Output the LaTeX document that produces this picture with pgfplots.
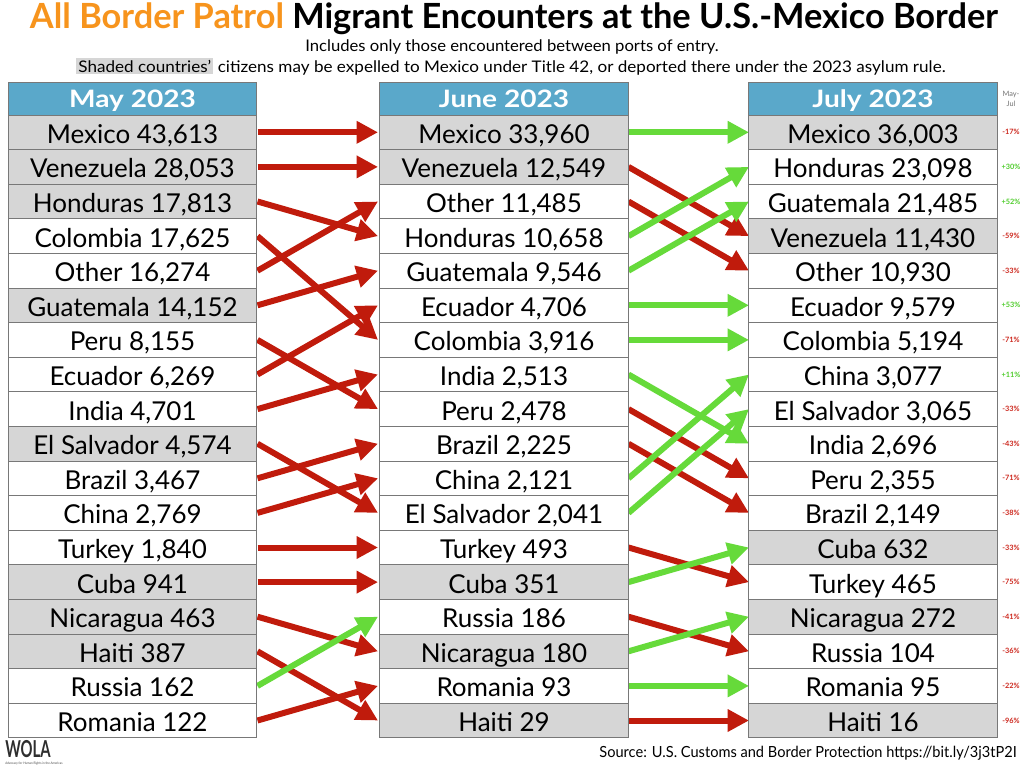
\documentclass[border=0pt]{standalone}
\usepackage{fontspec}
\setmainfont{Lato}
\usepackage{graphicx}
\usepackage{pgfplots}
\pgfplotsset{compat=1.18}
\usepackage{pgfplotstable}
\usetikzlibrary{arrows.meta}

\definecolor{cellgray}{RGB}{214,214,214}
\definecolor{cellline}{RGB}{120,120,120}
\definecolor{hdrblue}{RGB}{90,168,202}
\definecolor{arrred}{RGB}{192,27,12}
\definecolor{arrgreen}{RGB}{102,218,58}
\definecolor{pctred}{RGB}{205,40,30}
\definecolor{pctgreen}{RGB}{80,205,45}
\definecolor{titleorange}{RGB}{247,148,29}

\tikzset{cell/.style={draw=cellline, line width=0.7pt, inner sep=0pt,
    minimum width=186.5pt, minimum height=25.95pt, anchor=center,
    text height=16.6pt, text depth=0pt,
    text=black, font=\fontsize{19.5}{21}\selectfont}}

% one table per month: row, label, shaded (100) or not (0)
\pgfplotstableread[col sep=semicolon]{
r;label;s
0;Mexico 43,613;100
1;Venezuela 28,053;100
2;Honduras 17,813;100
3;Colombia 17,625;0
4;Other 16,274;0
5;Guatemala 14,152;100
6;Peru 8,155;0
7;Ecuador 6,269;0
8;India 4,701;0
9;El Salvador 4,574;100
10;Brazil 3,467;0
11;China 2,769;0
12;Turkey 1,840;0
13;Cuba 941;100
14;Nicaragua 463;100
15;Haiti 387;100
16;Russia 162;0
17;Romania 122;0
}\maytab

\pgfplotstableread[col sep=semicolon]{
r;label;s
0;Mexico 33,960;100
1;Venezuela 12,549;100
2;Other 11,485;0
3;Honduras 10,658;0
4;Guatemala 9,546;0
5;Ecuador 4,706;0
6;Colombia 3,916;0
7;India 2,513;0
8;Peru 2,478;0
9;Brazil 2,225;0
10;China 2,121;0
11;El Salvador 2,041;0
12;Turkey 493;0
13;Cuba 351;100
14;Russia 186;0
15;Nicaragua 180;100
16;Romania 93;0
17;Haiti 29;100
}\juntab

\pgfplotstableread[col sep=semicolon]{
r;label;s
0;Mexico 36,003;100
1;Honduras 23,098;0
2;Guatemala 21,485;0
3;Venezuela 11,430;100
4;Other 10,930;0
5;Ecuador 9,579;0
6;Colombia 5,194;0
7;China 3,077;0
8;El Salvador 3,065;0
9;India 2,696;0
10;Peru 2,355;0
11;Brazil 2,149;0
12;Cuba 632;100
13;Turkey 465;0
14;Nicaragua 272;100
15;Russia 104;0
16;Romania 95;0
17;Haiti 16;100
}\jultab

% May-Jul change, g=100 for a rise
\pgfplotstableread[col sep=semicolon]{
r;label;g
0;-17\%;0
1;+30\%;100
2;+52\%;100
3;-59\%;0
4;-33\%;0
5;+53\%;100
6;-71\%;0
7;+11\%;100
8;-33\%;0
9;-43\%;0
10;-71\%;0
11;-38\%;0
12;-33\%;0
13;-75\%;0
14;-41\%;0
15;-36\%;0
16;-22\%;0
17;-96\%;0
}\pcttab

% arrows: start x, from row, to row
\pgfplotstableread{
x a b
257.5 0 0
257.5 1 1
257.5 2 3
257.5 3 6
257.5 4 2
257.5 5 4
257.5 6 8
257.5 7 5
257.5 8 7
257.5 9 11
257.5 10 9
257.5 11 10
257.5 12 12
257.5 13 13
257.5 14 15
257.5 15 17
257.5 17 16
628.5 1 3
628.5 2 4
628.5 8 10
628.5 9 11
628.5 12 13
628.5 14 15
628.5 17 17
}\downarrows

\pgfplotstableread{
x a b
257.5 16 14
628.5 0 0
628.5 3 1
628.5 4 2
628.5 5 5
628.5 6 6
628.5 7 9
628.5 10 7
628.5 11 8
628.5 13 12
628.5 15 14
628.5 16 16
}\uparrows

\begin{document}
\begin{tikzpicture}
\begin{axis}[
  width=768pt, height=576pt, scale only axis,
  xmin=0, xmax=1024, ymin=0, ymax=768, y dir=reverse,
  hide axis, clip=false,
]
\addplot[draw=none, fill=white] coordinates {(0,0) (1024,0) (1024,768) (0,768) (0,0)};

% month headers
\addplot[draw=none, mark=none, point meta=explicit symbolic,
  nodes near coords={\scalebox{1.17}[1]{\pgfplotspointmeta}},
  every node near coord/.append style={draw=cellline, line width=0.7pt, fill=hdrblue,
    inner sep=0pt, minimum width=186.5pt, minimum height=24.75pt, anchor=center,
    text height=14.2pt, text depth=0pt,
    text=white, font=\fontsize{18}{19}\bfseries}]
  table[meta=label, col sep=semicolon] {
x;y;label
132.5;98.5;May 2023
504;98.5;June 2023
873;98.5;July 2023
};

% cells
\addplot[draw=none, mark=none, nodes near coords, point meta=explicit symbolic,
  visualization depends on={\thisrow{s} \as \cs},
  every node near coord/.append style={cell, fill=cellgray!\cs!white}]
  table[x expr=132.5, y expr={115+34.6*(\thisrow{r}+0.5)}, meta=label] \maytab;
\addplot[draw=none, mark=none, nodes near coords, point meta=explicit symbolic,
  visualization depends on={\thisrow{s} \as \cs},
  every node near coord/.append style={cell, fill=cellgray!\cs!white}]
  table[x expr=504, y expr={115+34.6*(\thisrow{r}+0.5)}, meta=label] \juntab;
\addplot[draw=none, mark=none, nodes near coords, point meta=explicit symbolic,
  visualization depends on={\thisrow{s} \as \cs},
  every node near coord/.append style={cell, fill=cellgray!\cs!white}]
  table[x expr=873, y expr={115+34.6*(\thisrow{r}+0.5)}, meta=label] \jultab;

% arrows
\addplot[mark=none, quiver={u=120.5, v={34.6*(\thisrow{b}-\thisrow{a})},
    every arrow/.append style={arrred, line width=4.5pt,
      -{Triangle[length=16pt,width=16pt]}}}]
  table[x=x, y expr={115+34.6*(\thisrow{a}+0.5)}] \downarrows;
\addplot[mark=none, quiver={u=120.5, v={34.6*(\thisrow{b}-\thisrow{a})},
    every arrow/.append style={arrgreen, line width=4.5pt,
      -{Triangle[length=16pt,width=16pt]}}}]
  table[x=x, y expr={115+34.6*(\thisrow{a}+0.5)}] \uparrows;

% change column
\addplot[draw=none, mark=none, nodes near coords, point meta=explicit symbolic,
  visualization depends on={\thisrow{g} \as \pg},
  every node near coord/.append style={anchor=center, inner sep=0pt,
    text=pctgreen!\pg!pctred, font=\fontsize{5.5}{6}\bfseries}]
  table[x expr=1011, y expr={115+34.6*(\thisrow{r}+0.5)}, meta=label] \pcttab;

\node[align=center, text=black!55, font=\fontsize{5.5}{7}\selectfont, inner sep=0pt]
  at (axis cs:1011,99) {May-\\Jul};

% titles
\node[anchor=base, inner sep=0pt] at (axis cs:514,28)
  {\resizebox{726pt}{\height}{\fontsize{26}{30}\bfseries
   \textcolor{titleorange}{All Border Patrol} Migrant Encounters at the U.S.-Mexico Border}};
\node[anchor=base, inner sep=0pt] at (axis cs:512,51)
  {\resizebox{310pt}{\height}{\fontsize{12}{14}\selectfont
   Includes only those encountered between ports of entry.}};
\node[anchor=base, inner sep=0pt] at (axis cs:511,72)
  {\resizebox{652pt}{\height}{\fontsize{12}{14}\selectfont\setlength{\fboxsep}{1.5pt}%
   \colorbox{cellgray}{Shaded countries'} citizens may be expelled to Mexico under Title 42, or deported there under the 2023 asylum rule.}};

% footer
\node[anchor=base west, inner sep=0pt, text=black!82] at (axis cs:5,757)
  {\resizebox{34pt}{\height}{\fontsize{17.5}{17.5}\bfseries WOLA}};
\node[anchor=base west, inner sep=0pt, text=black!70] at (axis cs:5,764)
  {\resizebox{43pt}{\height}{\fontsize{2.5}{3}\selectfont Advocacy for Human Rights in the Americas}};
\node[anchor=base east, inner sep=0pt] at (axis cs:1017,757)
  {\resizebox{313pt}{\height}{\fontsize{11.5}{13}\selectfont
   Source: U.S. Customs and Border Protection https://bit.ly/3j3tP2I}};
\end{axis}
\end{tikzpicture}
\end{document}
